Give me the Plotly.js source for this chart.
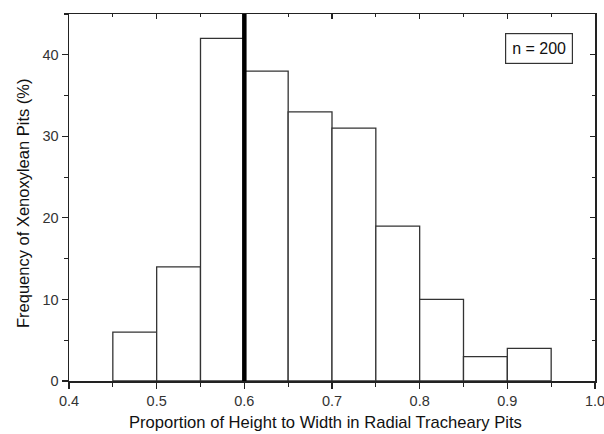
<!DOCTYPE html>
<html>
<head>
<meta charset="utf-8">
<script src="https://cdn.plot.ly/plotly-3.0.1.min.js"></script>
<style>html,body{margin:0;padding:0;background:#fff}#chart{width:604px;height:434px}</style>
</head>
<body>
<div id="chart"></div>
<script>
// Bin left edges (proportion of height to width) and frequencies
const binStarts = [0.45, 0.50, 0.55, 0.60, 0.65, 0.70, 0.75, 0.80, 0.85, 0.90];
const frequencies = [6, 14, 42, 38, 33, 31, 19, 10, 3, 4];
const binWidth = 0.05;
const meanLine = 0.6;
const xTicks = [0.4, 0.5, 0.6, 0.7, 0.8, 0.9, 1.0];
const xTickLabels = ["0.4", "0.5", "0.6", "0.7", "0.8", "0.9", "1.0"];
const yTicks = [0, 10, 20, 30, 40];
const annotationText = "n = 200";
const xTitle = "Proportion of Height to Width in Radial Tracheary Pits";
const yTitle = "Frequency of Xenoxylean Pits (%)";

const font = "Liberation Sans, Arial, sans-serif";
const axisCommon = {
  showgrid: false, zeroline: false, showline: true, linecolor: "#222", linewidth: 1.5,
  tickcolor: "#222", tickwidth: 1.2, ticklen: 6
};

const traces = [
  {
    type: "bar",
    x: binStarts,
    y: frequencies,
    width: binWidth,
    offset: 0,
    marker: {color: "#fff", line: {color: "#333", width: 1.3}},
    hoverinfo: "x+y"
  },
  {
    type: "scatter", mode: "markers", x: [0.5], y: [10], xaxis: "x2", yaxis: "y2",
    marker: {opacity: 0}, hoverinfo: "skip", showlegend: false
  }
];

const layout = {
  width: 604, height: 434,
  margin: {l: 69, r: 9, t: 14, b: 53},
  paper_bgcolor: "#fff", plot_bgcolor: "#fff",
  showlegend: false,
  font: {family: font, color: "#222"},
  xaxis: Object.assign({}, axisCommon, {
    range: [0.4, 1.0], ticks: "outside", tickvals: xTicks, ticktext: xTickLabels,
    tickfont: {size: 14.5, color: "#333"}, ticklabeloverflow: "allow",
    minor: {dtick: 0.05, tick0: 0.4, ticks: "outside", ticklen: 4, tickcolor: "#222"}
  }),
  yaxis: Object.assign({}, axisCommon, {
    range: [0, 45], ticks: "outside", tickvals: yTicks,
    tickfont: {size: 14.5, color: "#333"},
    minor: {dtick: 5, tick0: 0, ticks: "outside", ticklen: 4, tickcolor: "#222"}
  }),
  xaxis2: Object.assign({}, axisCommon, {
    overlaying: "x", side: "top", range: [0.4, 1.0], ticks: "inside", dtick: 0.1, tick0: 0.4,
    showticklabels: false, anchor: "y2", ticklen: 5,
    minor: {dtick: 0.05, tick0: 0.4, ticks: "inside", ticklen: 3, tickcolor: "#222"}
  }),
  yaxis2: Object.assign({}, axisCommon, {
    overlaying: "y", side: "right", range: [0, 45], ticks: "inside", dtick: 10, tick0: 0,
    showticklabels: false, anchor: "x2", ticklen: 5,
    minor: {dtick: 5, tick0: 0, ticks: "inside", ticklen: 3, tickcolor: "#222"}
  }),
  shapes: [
    {type: "line", xref: "x", yref: "paper", x0: meanLine, x1: meanLine, y0: 0, y1: 1,
     line: {color: "#000", width: 4.5}}
  ],
  annotations: [
    {text: annotationText, xref: "paper", yref: "paper", x: 0.958, y: 0.906,
     xanchor: "right", yanchor: "middle", showarrow: false,
     font: {size: 16, color: "#111"}, bordercolor: "#333", borderwidth: 1.2,
     borderpad: 6, bgcolor: "#fff"},
    {text: xTitle, xref: "paper", yref: "paper", x: 0.487, y: -0.113,
     xanchor: "center", yanchor: "middle", showarrow: false,
     font: {size: 16.6, color: "#111"}},
    {text: yTitle, xref: "paper", yref: "paper", x: -0.0875, y: 0.485, textangle: -90,
     xanchor: "center", yanchor: "middle", showarrow: false,
     font: {size: 16.5, color: "#111"}}
  ]
};

Plotly.newPlot("chart", traces, layout, {displayModeBar: false, staticPlot: true});
</script>
</body>
</html>
